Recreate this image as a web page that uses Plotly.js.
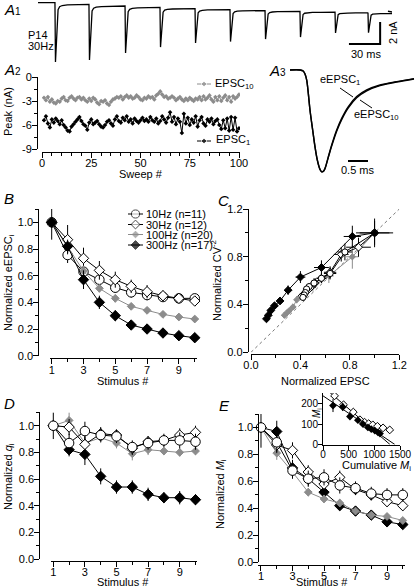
<!DOCTYPE html>
<html><head><meta charset="utf-8">
<script src="https://cdn.plot.ly/plotly-3.0.1.min.js"></script>
<style>html,body{margin:0;padding:0;background:#fff}#plot{width:416px;height:587px}</style>
</head><body><div id="plot"></div>
<script>
// ---------------- DATA ----------------
// A1: 30 Hz train, stimulus onsets (ms) and EPSC peaks (nA)
const a1StimTimes = [16.3, 49.0, 83.7, 117.3, 151.0, 184.6, 218.3, 251.9, 285.6, 317.3];
const a1Peaks = [-5.41, -5.23, -4.59, -4.05, -3.68, -3.55, -3.32, -3.14, -2.77, -2.74];
const a1KernelT = [0, 0.5, 1.0, 1.5, 2.2, 3.0, 4.5, 7, 12, 20, 32];
const a1KernelV = [0, 1, 0.8, 0.45, 0.22, 0.12, 0.07, 0.05, 0.04, 0.035, 0.03];
const a1EndTime = 336.5;
const a1ScaleX = [299, 329, 329];
const a1ScaleY = [-3.77, -3.77, -1.77];

// A2: peak amplitude per sweep
const sweeps = Array.from({length: 100}, (_, i) => i + 1);
const epsc10 = [-2.6,-2.9,-2.5,-3.1,-2.8,-3.2,-3.3,-3.0,-3.1,-2.7,
-2.5,-2.9,-3.0,-2.6,-2.4,-2.7,-2.9,-2.6,-2.5,-2.8,
-2.6,-2.9,-3.1,-2.7,-3.0,-2.6,-2.8,-3.2,-3.4,-3.0,
-3.1,-2.9,-3.3,-3.5,-3.1,-2.8,-2.7,-2.5,-2.6,-2.4,
-2.8,-2.5,-2.3,-2.6,-2.4,-2.7,-2.6,-2.3,-2.5,-2.8,
-2.9,-2.6,-2.7,-2.4,-2.6,-2.5,-2.8,-2.3,-2.1,-1.8,
-2.2,-2.5,-2.4,-2.7,-2.6,-2.4,-2.6,-2.9,-2.7,-2.5,
-2.8,-3.0,-2.7,-2.9,-2.6,-2.8,-3.0,-2.7,-2.8,-2.5,
-2.9,-2.4,-2.8,-2.6,-2.3,-2.8,-3.1,-2.5,-2.9,-2.4,
-3.0,-2.6,-2.3,-2.9,-2.5,-3.1,-2.4,-2.7,-2.5,-2.2];
const epsc1 = [-5.4,-4.9,-5.8,-6.3,-5.3,-5.7,-5.2,-5.5,-5.9,-5.4,
-6.0,-6.3,-6.7,-6.8,-6.2,-5.9,-5.6,-5.3,-5.0,-5.5,
-5.9,-6.1,-6.6,-5.7,-5.3,-5.9,-5.7,-5.5,-5.9,-6.2,
-6.3,-6.0,-5.6,-5.4,-5.8,-6.1,-5.3,-4.9,-5.5,-5.7,
-5.1,-5.4,-4.9,-5.6,-5.3,-5.8,-5.2,-5.5,-5.7,-5.4,
-5.1,-5.5,-5.3,-5.6,-5.0,-5.4,-5.6,-5.2,-5.8,-5.5,
-4.9,-5.3,-5.7,-5.1,-4.4,-5.6,-5.0,-5.9,-5.2,-5.6,
-7.0,-4.6,-5.8,-5.1,-6.0,-5.3,-5.7,-4.9,-6.2,-5.4,
-5.0,-5.8,-6.1,-5.3,-5.6,-5.2,-5.9,-5.5,-5.3,-6.0,
-6.5,-5.4,-6.4,-5.2,-6.7,-5.0,-6.6,-5.1,-6.8,-6.4];
const a2YTicks = [0, -3, -6, -9];
const a2YTickText = ['0', '-3', '-6', '-9'];
const a2XTicks = [0, 25, 50, 75, 100];

// A3: normalized eEPSC waveforms (ms, normalized)
const a3T = [0, 0.25, 0.33, 0.375, 0.417, 0.458, 0.5, 0.567, 0.625, 0.683, 0.75, 0.792, 0.833, 0.875, 0.958, 1.042, 1.167, 1.292, 1.458, 1.667, 1.917, 2.25, 2.667, 3.1];
const a3V1 = [0, 0, -0.01, -0.04, -0.098, -0.229, -0.392, -0.588, -0.752, -0.882, -0.974, -0.997, -0.993, -0.964, -0.85, -0.735, -0.588, -0.474, -0.359, -0.261, -0.196, -0.147, -0.114, -0.085];
const a3V10 = [0, 0, -0.01, -0.04, -0.1, -0.232, -0.395, -0.59, -0.754, -0.884, -0.975, -0.998, -0.994, -0.967, -0.856, -0.745, -0.6, -0.487, -0.372, -0.273, -0.205, -0.154, -0.118, -0.088];
const a3ScaleX = [1.45, 1.95];
const a3ScaleY = [-0.892, -0.892];

// B, C, D, E: stimulus number
const stim = [1, 2, 3, 4, 5, 6, 7, 8, 9, 10];
const stimTicks = [1, 3, 5, 7, 9];
const normTicks = [0, 0.2, 0.4, 0.6, 0.8, 1.0];
const normTickText = ['0.0', '0.2', '0.4', '0.6', '0.8', '1.0'];
const cTicks = [0, 0.4, 0.8, 1.2];
const cTickText = ['0.0', '0.4', '0.8', '1.2'];

// B: normalized eEPSC_i
const b10 = [1, 0.755, 0.63, 0.57, 0.51, 0.475, 0.455, 0.44, 0.43, 0.43];
const b30 = [1, 0.87, 0.73, 0.64, 0.57, 0.52, 0.48, 0.45, 0.43, 0.41];
const b100 = [1, 0.82, 0.635, 0.505, 0.43, 0.37, 0.34, 0.31, 0.29, 0.275];
const b300 = [1, 0.82, 0.57, 0.40, 0.30, 0.23, 0.20, 0.17, 0.15, 0.135];
const b10Err = [0.13, 0.06, 0.05, 0.05, 0.04, 0.04, 0.04, 0.03, 0.03, 0.03];
const b30Err = [0, 0.11, 0.08, 0.07, 0.06, 0.05, 0.05, 0.04, 0.03, 0.03];
const b100Err = [0, 0.04, 0.04, 0.03, 0.03, 0.02, 0.02, 0.02, 0.02, 0.02];
const b300Err = [0, 0.05, 0.07, 0.05, 0.04, 0.03, 0.02, 0.02, 0.02, 0.02];
const legendNames = ['10Hz (n=11)', '30Hz (n=12)', '100Hz (n=20)', '300Hz (n=17)'];

// C: normalized CV^-2 vs normalized EPSC
const c10X = [1, 0.76, 0.64, 0.57, 0.51, 0.47, 0.45, 0.44, 0.43, 0.42];
const c10Y = [1, 0.84, 0.66, 0.62, 0.58, 0.55, 0.53, 0.50, 0.48, 0.46];
const c30X = [1, 0.87, 0.73, 0.64, 0.57, 0.52, 0.48, 0.45, 0.43, 0.41];
const c30Y = [1, 0.88, 0.82, 0.67, 0.62, 0.58, 0.54, 0.51, 0.49, 0.47];
const c100X = [1, 0.82, 0.63, 0.50, 0.43, 0.37, 0.34, 0.31, 0.29, 0.27];
const c100Y = [1, 0.80, 0.64, 0.55, 0.48, 0.44, 0.38, 0.35, 0.33, 0.31];
const c300X = [1, 0.82, 0.57, 0.40, 0.30, 0.235, 0.19, 0.16, 0.14, 0.125];
const c300Y = [1, 0.97, 0.71, 0.63, 0.52, 0.43, 0.39, 0.35, 0.31, 0.28];
const c10ErrX = [0.12, 0.06, 0.05, 0.04, 0.03, 0.03, 0.03, 0.02, 0.02, 0.02];
const c10ErrY = [0.1, 0.07, 0.05, 0.04, 0.04, 0.03, 0.03, 0.03, 0.03, 0.03];
const c30ErrX = [0, 0.1, 0.06, 0.05, 0.04, 0.03, 0.03, 0.02, 0.02, 0.02];
const c30ErrY = [0, 0.08, 0.06, 0.05, 0.04, 0.04, 0.03, 0.03, 0.03, 0.03];
const c100ErrX = [0, 0.05, 0.04, 0.03, 0.03, 0.02, 0.02, 0.02, 0.02, 0.02];
const c100ErrY = [0, 0.1, 0.06, 0.04, 0.03, 0.03, 0.02, 0.02, 0.02, 0.02];
const c300ErrX = [0.15, 0.07, 0.06, 0.04, 0.03, 0.02, 0.02, 0.01, 0.01, 0.01];
const c300ErrY = [0.12, 0.09, 0.06, 0.05, 0.04, 0.03, 0.02, 0.02, 0.02, 0.02];
const unityLine = [0, 1.2];

// D: normalized q_i
const d10 = [1, 0.87, 0.96, 0.93, 0.92, 0.84, 0.87, 0.89, 0.89, 0.88];
const d30 = [1, 0.99, 0.86, 0.94, 0.93, 0.83, 0.88, 0.89, 0.93, 0.95];
const d100 = [1, 1.04, 0.87, 0.91, 0.87, 0.79, 0.82, 0.81, 0.80, 0.81];
const d300 = [1, 0.82, 0.785, 0.62, 0.54, 0.54, 0.485, 0.46, 0.46, 0.445];
const d10Err = [0.1, 0.07, 0.07, 0.05, 0.05, 0.05, 0.05, 0.05, 0.06, 0.06];
const d30Err = [0, 0.06, 0.06, 0.05, 0.04, 0.05, 0.04, 0.04, 0.05, 0.05];
const d100Err = [0, 0.06, 0.05, 0.04, 0.04, 0.05, 0.04, 0.03, 0.03, 0.03];
const d300Err = [0, 0.05, 0.08, 0.06, 0.05, 0.05, 0.05, 0.04, 0.05, 0.04];

// E: normalized M_i
const e10 = [1, 0.89, 0.68, 0.62, 0.63, 0.57, 0.55, 0.51, 0.50, 0.50];
const e30 = [1, 0.87, 0.83, 0.67, 0.58, 0.63, 0.54, 0.50, 0.45, 0.42];
const e100 = [1, 0.81, 0.67, 0.52, 0.47, 0.44, 0.38, 0.35, 0.34, 0.31];
const e300 = [1, 0.97, 0.70, 0.62, 0.52, 0.42, 0.38, 0.35, 0.30, 0.28];
const e10Err = [0.15, 0.07, 0.06, 0.06, 0.06, 0.06, 0.05, 0.05, 0.05, 0.05];
const e30Err = [0, 0.06, 0.06, 0.05, 0.05, 0.05, 0.04, 0.04, 0.04, 0.04];
const e100Err = [0, 0.05, 0.05, 0.03, 0.03, 0.03, 0.02, 0.02, 0.02, 0.02];
const e300Err = [0, 0.08, 0.06, 0.05, 0.04, 0.03, 0.03, 0.03, 0.03, 0.03];

// E inset: M_i vs cumulative M_i
const insBlackX = [195, 385, 525, 680, 780, 875, 940, 1010, 1070, 1110];
const insBlackY = [192, 185, 138, 120, 100, 84, 76, 68, 60, 54];
const insBlackErr = [32, 20, 10, 8, 6, 5, 5, 4, 4, 4];
const insOpenX = [225, 400, 590, 720, 810, 890, 970, 1060, 1170, 1300];
const insOpenY = [240, 196, 160, 122, 110, 103, 97, 90, 82, 72];
const fitAX = [0, 1400];
const fitAY = [240, 0];
const fitBX = [0, 1305];
const fitBY = [286, 0];
const insXTicks = [0, 500, 1000, 1500];
const insYTicks = [0, 100, 200];

// ---------------- LAYOUT HELPERS ----------------
const W = 416, H = 587;
const gray = '#8c8c8c';
const FONT = 'Liberation Sans, Arial, Helvetica, sans-serif';
const xd = (a, b) => [a / W, b / W];
const yd = (top, bottom) => [1 - bottom / H, 1 - top / H];
const px = x => x / W;
const py = y => 1 - y / H;

const axBase = {
  showline: true, linecolor: '#000', linewidth: 1, ticks: 'outside', ticklen: 5,
  tickwidth: 1, tickcolor: '#000', showgrid: false, zeroline: false,
  tickfont: {family: FONT, size: 11, color: '#000'}, fixedrange: true
};
function axis(extra) { return Object.assign({}, axBase, extra); }
function xax(extra) { return axis(Object.assign({ticklabelstandoff: -4}, extra)); }
function yax(extra) { return axis(Object.assign({ticklabelstandoff: -2}, extra)); }
const minorT = d => ({dtick: d, tick0: 0, ticks: 'outside', ticklen: 3, tickcolor: '#000'});
const hidden = {visible: false, showgrid: false, zeroline: false, fixedrange: true};

// ---------------- TRACES ----------------
const traces = [];

// A1 trace built from peaks and EPSC kernel
(function () {
  const x = [0], y = [0];
  let tail = 0;
  for (let k = 0; k < a1StimTimes.length; k++) {
    const prev = tail;
    for (let j = 0; j < a1KernelT.length; j++) {
      const v = prev * (1 - a1KernelV[j]) + a1Peaks[k] * a1KernelV[j];
      x.push(a1StimTimes[k] + a1KernelT[j]);
      y.push(v);
      tail = v;
    }
  }
  x.push(a1EndTime); y.push(tail * 0.8);
  traces.push({x, y, xaxis: 'x', yaxis: 'y', mode: 'lines', line: {color: '#000', width: 1.3}});
  traces.push({x: a1ScaleX, y: a1ScaleY, xaxis: 'x', yaxis: 'y', mode: 'lines', line: {color: '#000', width: 2}});
})();

// A2
traces.push({x: sweeps, y: epsc10, xaxis: 'x2', yaxis: 'y2', mode: 'lines+markers',
  line: {color: gray, width: 1}, marker: {symbol: 'diamond', size: 3.5, color: gray}});
traces.push({x: sweeps, y: epsc1, xaxis: 'x2', yaxis: 'y2', mode: 'lines+markers',
  line: {color: '#000', width: 1}, marker: {symbol: 'diamond', size: 3.5, color: '#000'}});

// A3
traces.push({x: a3T, y: a3V10, xaxis: 'x3', yaxis: 'y3', mode: 'lines', line: {color: '#000', width: 1.4, shape: 'spline'}});
traces.push({x: a3T, y: a3V1, xaxis: 'x3', yaxis: 'y3', mode: 'lines', line: {color: '#000', width: 1.4, shape: 'spline'}});
traces.push({x: a3ScaleX, y: a3ScaleY, xaxis: 'x3', yaxis: 'y3', mode: 'lines', line: {color: '#000', width: 2}});

const styles = {
  hz10: {symbol: 'circle', size: 9.5, fill: '#fff', edge: '#000', lc: '#000'},
  hz30: {symbol: 'diamond', size: 8, fill: '#fff', edge: '#000', lc: '#000'},
  hz100: {symbol: 'diamond', size: 6, fill: gray, edge: gray, lc: gray},
  hz300: {symbol: 'diamond', size: 8, fill: '#000', edge: '#000', lc: '#000'}
};
function series(xs, ys, errY, st, xa, ya, errX, scale) {
  const s = scale || 1;
  const t = {x: xs, y: ys, xaxis: xa, yaxis: ya, mode: 'lines+markers',
    line: {color: st.lc, width: 1},
    marker: {symbol: st.symbol, size: st.size * s, color: st.fill, line: {color: st.edge, width: 1}},
    error_y: {type: 'data', array: errY, visible: true, color: st.lc, thickness: 1, width: 0},
    cliponaxis: false};
  if (errX) t.error_x = {type: 'data', array: errX, visible: true, color: st.lc, thickness: 1, width: 0};
  return t;
}

// B
traces.push(series(stim, b10, b10Err, styles.hz10, 'x4', 'y4'));
traces.push(series(stim, b30, b30Err, styles.hz30, 'x4', 'y4'));
traces.push(series(stim, b100, b100Err, styles.hz100, 'x4', 'y4'));
traces.push(series(stim, b300, b300Err, styles.hz300, 'x4', 'y4'));

// C
traces.push({x: unityLine, y: unityLine, xaxis: 'x5', yaxis: 'y5', mode: 'lines', line: {color: '#777', width: 1, dash: 'dot'}});
traces.push(series(c100X, c100Y, c100ErrY, styles.hz100, 'x5', 'y5', c100ErrX, 0.8));
traces.push(series(c30X, c30Y, c30ErrY, styles.hz30, 'x5', 'y5', c30ErrX, 0.75));
traces.push(series(c10X, c10Y, c10ErrY, styles.hz10, 'x5', 'y5', c10ErrX, 0.65));
traces.push(series(c300X, c300Y, c300ErrY, styles.hz300, 'x5', 'y5', c300ErrX, 0.75));

// D
traces.push(series(stim, d300, d300Err, styles.hz300, 'x6', 'y6'));
traces.push(series(stim, d100, d100Err, styles.hz100, 'x6', 'y6'));
traces.push(series(stim, d30, d30Err, styles.hz30, 'x6', 'y6'));
traces.push(series(stim, d10, d10Err, styles.hz10, 'x6', 'y6'));

// E
traces.push(series(stim, e300, e300Err, styles.hz300, 'x7', 'y7'));
traces.push(series(stim, e100, e100Err, styles.hz100, 'x7', 'y7'));
traces.push(series(stim, e30, e30Err, styles.hz30, 'x7', 'y7'));
traces.push(series(stim, e10, e10Err, styles.hz10, 'x7', 'y7'));

// E inset
traces.push({x: fitAX, y: fitAY, xaxis: 'x8', yaxis: 'y8', mode: 'lines', line: {color: '#000', width: 1}});
traces.push({x: fitBX, y: fitBY, xaxis: 'x8', yaxis: 'y8', mode: 'lines', line: {color: '#000', width: 1}});
traces.push({x: insOpenX, y: insOpenY, xaxis: 'x8', yaxis: 'y8', mode: 'markers',
  marker: {symbol: 'diamond', size: 6, color: '#fff', line: {color: '#000', width: 1}}});
traces.push({x: insBlackX, y: insBlackY, xaxis: 'x8', yaxis: 'y8', mode: 'markers',
  marker: {symbol: 'diamond', size: 6, color: '#000'},
  error_y: {type: 'data', array: insBlackErr, visible: true, color: '#000', thickness: 1, width: 0}});

// Legend samples (pixel overlay axis)
const a2LegendRows = [84, 141];
const a2LegendStyles = [gray, '#000'];
a2LegendRows.forEach((r, i) => {
  traces.push({x: [197, 204, 211], y: [r, r, r], xaxis: 'x9', yaxis: 'y9', mode: 'lines+markers',
    line: {color: a2LegendStyles[i], width: 1},
    marker: {symbol: 'diamond', size: [0, 4.5, 0], color: a2LegendStyles[i]}});
});
const bLegendRows = [214, 224.5, 234.5, 245];
const bLegendStyles = [styles.hz10, styles.hz30, styles.hz100, styles.hz300];
bLegendRows.forEach((r, i) => {
  const st = bLegendStyles[i];
  traces.push({x: [128, 135.5, 143], y: [r, r, r], xaxis: 'x9', yaxis: 'y9', mode: 'lines+markers',
    line: {color: st.lc, width: 1},
    marker: {symbol: st.symbol, size: [0, st.size * 0.85, 0], color: st.fill, line: {color: st.edge, width: 1}}});
});

traces.forEach(t => { t.hoverinfo = 'skip'; t.showlegend = false; });

// ---------------- ANNOTATIONS ----------------
function ann(x, y, text, opt) {
  return Object.assign({xref: 'paper', yref: 'paper', x: px(x), y: py(y), text: text, showarrow: false,
    xanchor: 'center', yanchor: 'middle', font: {family: FONT, size: 11, color: '#000'}}, opt || {});
}
const letterFont = {family: FONT, size: 15, color: '#000'};
const sub = s => '<span style="font-size:10px">' + s + '</span>';
const annotations = [
  ann(2, 9, '<i>A</i>' + sub('1'), {xanchor: 'left', font: letterFont}),
  ann(2, 70, '<i>A</i>' + sub('2'), {xanchor: 'left', font: letterFont}),
  ann(267, 71, '<i>A</i>' + sub('3'), {xanchor: 'left', font: letterFont}),
  ann(2, 198, '<i>B</i>', {xanchor: 'left', font: letterFont}),
  ann(216, 200, '<i>C</i>', {xanchor: 'left', font: letterFont}),
  ann(2, 403, '<i>D</i>', {xanchor: 'left', font: letterFont}),
  ann(217, 405, '<i>E</i>', {xanchor: 'left', font: letterFont}),
  ann(26, 35, 'P14', {xanchor: 'left'}),
  ann(26, 46, '30Hz', {xanchor: 'left'}),
  ann(393, 33, '2 nA', {textangle: -90}),
  ann(366, 54, '30 ms'),
  ann(213, 84, 'EPSC<sub>10</sub>', {xanchor: 'left'}),
  ann(214, 140, 'EPSC<sub>1</sub>', {xanchor: 'left'}),
  ann(8, 112, 'Peak (nA)', {textangle: -90}),
  ann(141, 174, 'Sweep #'),
  ann(318, 80, 'eEPSC<sub>1</sub>', {xanchor: 'left'}),
  ann(352, 115, 'eEPSC<sub>10</sub>', {xanchor: 'left'}),
  ann(358, 170, '0.5 ms'),
  ann(9, 283, 'Normalized eEPSC<sub>i</sub>', {textangle: -90}),
  ann(123, 381, 'Stimulus #'),
  ann(216, 281, 'Normalized CV<sup>-2</sup>', {textangle: -90}),
  ann(325, 381, 'Normalized EPSC'),
  ann(9, 477, 'Normalized <i>q</i><sub>i</sub>', {textangle: -90}),
  ann(123, 581.5, 'Stimulus #'),
  ann(221, 494, 'Normalized <i>M</i><sub>i</sub>', {textangle: -90}),
  ann(322, 581.5, 'Stimulus #'),
  ann(376, 466, 'Cumulative <i>M</i><sub>i</sub>'),
  ann(317, 413, '<i>M</i><sub>i</sub>', {textangle: -90, font: {family: FONT, size: 10, color: '#000'}})
];
legendNames.forEach((n, i) => annotations.push(ann(144, bLegendRows[i], n, {xanchor: 'left'})));

// leader lines for A3 labels
const shapes = [
  {type: 'line', xref: 'paper', yref: 'paper', x0: px(340), y0: py(88), x1: px(353), y1: py(97), line: {color: '#000', width: 1}},
  {type: 'line', xref: 'paper', yref: 'paper', x0: px(360), y0: py(100), x1: px(372), y1: py(108), line: {color: '#000', width: 1}}
];

// ---------------- LAYOUT ----------------
const insFont = {family: FONT, size: 10, color: '#000'};
const layout = {
  width: W, height: H, margin: {l: 0, r: 0, t: 0, b: 0}, autosize: false,
  paper_bgcolor: '#fff', plot_bgcolor: 'rgba(0,0,0,0)', showlegend: false,
  font: {family: FONT, size: 11, color: '#000'},
  annotations: annotations, shapes: shapes,
  xaxis: Object.assign({}, hidden, {domain: xd(38, 392), range: [0, 340.4], anchor: 'y'}),
  yaxis: Object.assign({}, hidden, {domain: yd(0, 68), range: [-5.95, 0.23], anchor: 'x'}),
  xaxis2: xax({domain: xd(42, 240), range: [0, 100.5], anchor: 'free', position: py(152),
    tickvals: a2XTicks, minor: minorT(5)}),
  yaxis2: yax({domain: yd(77, 149), range: [-9, 0], anchor: 'free', position: px(37),
    tickvals: a2YTicks, ticktext: a2YTickText, minor: minorT(1.5)}),
  xaxis3: Object.assign({}, hidden, {domain: xd(285, 416), range: [-0.125, 3.15], anchor: 'y3'}),
  yaxis3: Object.assign({}, hidden, {domain: yd(62, 180), range: [-1.078, 0.078], anchor: 'x3'}),
  xaxis4: xax({domain: xd(50, 197), range: [0.893, 10.14], anchor: 'free', position: py(358.3),
    tickvals: stimTicks, minor: minorT(1)}),
  yaxis4: yax({domain: yd(209, 355.7), range: [0, 1.1], anchor: 'free', position: px(38.3),
    tickvals: normTicks, ticktext: normTickText, minor: minorT(0.1)}),
  xaxis5: xax({domain: xd(251, 399.3), range: [0, 1.2], anchor: 'free', position: py(353.5),
    tickvals: cTicks, ticktext: cTickText, minor: minorT(0.2)}),
  yaxis5: yax({domain: yd(209, 352.3), range: [0, 1.2], anchor: 'free', position: px(247.7),
    tickvals: cTicks, ticktext: cTickText, minor: minorT(0.2)}),
  xaxis6: xax({domain: xd(51, 197), range: [0.854, 10.095], anchor: 'free', position: py(561),
    tickvals: stimTicks, minor: minorT(1)}),
  yaxis6: yax({domain: yd(412.4, 559), range: [0, 1.1], anchor: 'free', position: px(39.3),
    tickvals: normTicks, ticktext: normTickText, minor: minorT(0.1)}),
  xaxis7: xax({domain: xd(258, 405), range: [0.81, 10.14], anchor: 'free', position: py(564.5),
    tickvals: stimTicks, minor: minorT(1)}),
  yaxis7: yax({domain: yd(414, 562.3), range: [0, 1.1], anchor: 'free', position: px(258.3),
    tickvals: normTicks, ticktext: normTickText, minor: minorT(0.1)}),
  xaxis8: xax({domain: xd(323, 400), range: [0, 1500], anchor: 'y8', tickvals: insXTicks, ticklen: 4, tickfont: insFont}),
  yaxis8: yax({domain: yd(393, 444.5), range: [0, 254], anchor: 'x8', tickvals: insYTicks, ticklen: 4, tickfont: insFont}),
  xaxis9: Object.assign({}, hidden, {domain: [0, 1], range: [0, W], anchor: 'y9'}),
  yaxis9: Object.assign({}, hidden, {domain: [0, 1], range: [H, 0], anchor: 'x9'})
};

Plotly.newPlot('plot', traces, layout, {staticPlot: true, displayModeBar: false});
</script>
</body></html>
